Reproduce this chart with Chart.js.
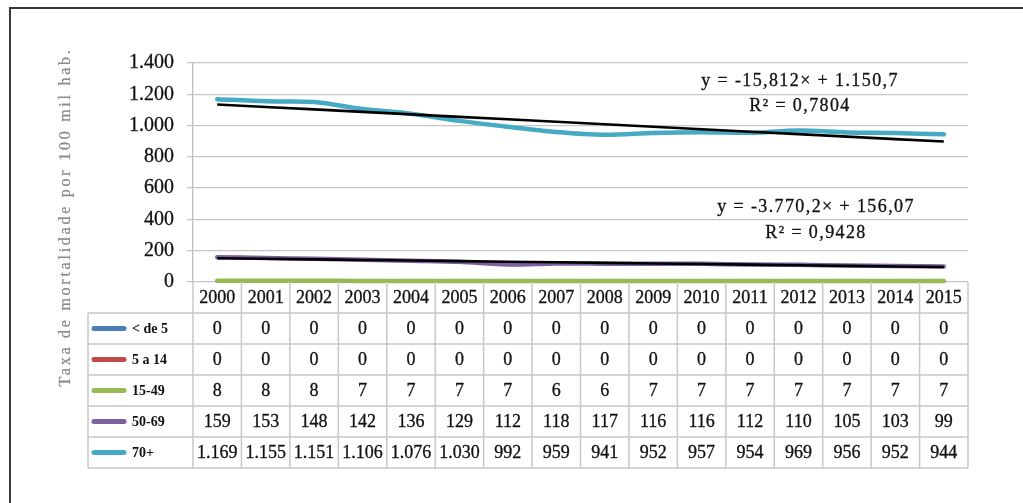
<!DOCTYPE html>
<html>
<head>
<meta charset="utf-8">
<script src="https://cdn.jsdelivr.net/npm/chart.js@4"></script>
<style>
  html, body { margin: 0; padding: 0; background: #fff; }
  canvas { display: block; }
</style>
</head>
<body>
<canvas id="mortalidade" width="1023" height="503"></canvas>
<script>
// Taxa de mortalidade por faixa etária, 2000-2015
var anos = ['2000', '2001', '2002', '2003', '2004', '2005', '2006', '2007',
            '2008', '2009', '2010', '2011', '2012', '2013', '2014', '2015'];
var faixas = ['< de 5', '5 a 14', '15-49', '50-69', '70+'];

var menorDe5   = [0, 0, 0, 0, 0, 0, 0, 0, 0, 0, 0, 0, 0, 0, 0, 0];
var de5a14     = [0, 0, 0, 0, 0, 0, 0, 0, 0, 0, 0, 0, 0, 0, 0, 0];
var de15a49    = [8, 8, 8, 7, 7, 7, 7, 6, 6, 7, 7, 7, 7, 7, 7, 7];
var de50a69    = [159, 153, 148, 142, 136, 129, 112, 118, 117, 116, 116, 112, 110, 105, 103, 99];
var de70mais   = [1169, 1155, 1151, 1106, 1076, 1030, 992, 959, 941, 952, 957, 954, 969, 956, 952, 944];

var yTicks = [0, 200, 400, 600, 800, 1000, 1200, 1400];

// linhas de tendência (x = 1..16): 70+ e 50-69
var tendInclinacao = [-15.812, -3.7702];
var tendIntercepto = [1150.7, 156.07];
var tendTextos = [
  ['y = -15,812× + 1.150,7', 'R² = 0,7804'],
  ['y = -3.770,2× + 156,07', 'R² = 0,9428']
];

var cores = ['#4a7ebb', '#be4b48', '#98b954', '#7d60a0', '#46aac5'];
var series = [menorDe5, de5a14, de15a49, de50a69, de70mais];

function milhar(v) {
  return String(v).replace(/\B(?=(\d{3})+(?!\d))/g, '.');
}

function tendencia(k) {
  return anos.map(function(a, i) {
    return tendInclinacao[k] * (i + 1) + tendIntercepto[k];
  });
}

var serif = '"Liberation Serif", "Times New Roman", serif';

var datasets = series.map(function(dados, i) {
  return {
    label: faixas[i],
    data: dados,
    borderColor: cores[i],
    backgroundColor: cores[i],
    borderWidth: 4.5,
    borderCapStyle: 'round',
    borderJoinStyle: 'round',
    pointRadius: 0,
    tension: 0.3,
    // as séries em zero ficam cortadas na base; as outras podem passar dela
    clip: i < 2 ? undefined : false,
    order: 5 - i
  };
});
datasets.push({
  label: 'Tendência 70+',
  data: tendencia(0),
  borderColor: '#000',
  borderWidth: 2.6,
  pointRadius: 0,
  clip: false,
  order: 0
});
datasets.push({
  label: 'Tendência 50-69',
  data: tendencia(1),
  borderColor: '#000',
  borderWidth: 2.6,
  pointRadius: 0,
  clip: false,
  order: 0
});

// texto com traço fino para ficar um pouco mais encorpado
function texto(ctx, s, x, y, traco) {
  ctx.fillText(s, x, y);
  if (traco) {
    ctx.lineWidth = traco;
    ctx.strokeStyle = ctx.fillStyle;
    ctx.strokeText(s, x, y);
  }
}

// moldura, título do eixo, equações e tabela de dados
var extras = {
  id: 'extras',
  afterDraw: function(chart) {
    var ctx = chart.ctx;
    var area = chart.chartArea;
    var x = chart.scales.x;
    var step = x.getPixelForValue(1) - x.getPixelForValue(0);

    ctx.save();
    // moldura
    ctx.strokeStyle = '#3a3a3a';
    ctx.lineWidth = 2;
    ctx.strokeRect(10, 8, 1040, 530);

    // título do eixo y
    ctx.save();
    ctx.translate(66, 217);
    ctx.rotate(-Math.PI / 2);
    ctx.font = '16px ' + serif;
    ctx.letterSpacing = '2.75px';
    ctx.fillStyle = '#8a8a8a';
    ctx.textAlign = 'center';
    ctx.textBaseline = 'middle';
    texto(ctx, 'Taxa de mortalidade por 100 mil hab.', 0, 0, 0.25);
    ctx.restore();

    // equações das tendências
    ctx.fillStyle = '#111';
    ctx.textAlign = 'center';
    ctx.textBaseline = 'middle';
    ctx.font = '18px ' + serif;
    ctx.letterSpacing = '1.4px';
    var pos = [[800, 81, 106], [816, 207, 233]];
    tendTextos.forEach(function(t, k) {
      texto(ctx, t[0], pos[k][0], pos[k][1], 0.3);
      texto(ctx, t[1], pos[k][0], pos[k][2], 0.3);
    });
    ctx.letterSpacing = '0px';

    // tabela
    var top = area.bottom;
    var headH = 31, rowH = 31;
    var legLeft = 88;
    var bottom = top + headH + faixas.length * rowH;
    var left = area.left, right = area.right;

    ctx.strokeStyle = '#c8c8c8';
    ctx.lineWidth = 1.5;
    ctx.beginPath();
    for (var c = 0; c <= anos.length; c++) {
      var cx = left + c * step;
      ctx.moveTo(cx, top);
      ctx.lineTo(cx, bottom);
    }
    ctx.moveTo(legLeft, top + headH);
    ctx.lineTo(legLeft, bottom);
    for (var r = 0; r <= faixas.length; r++) {
      var ry = top + headH + r * rowH;
      ctx.moveTo(legLeft, ry);
      ctx.lineTo(right, ry);
    }
    ctx.stroke();

    ctx.fillStyle = '#111';
    ctx.font = '18px ' + serif;
    anos.forEach(function(a, i) {
      texto(ctx, a, x.getPixelForValue(i), top + headH / 2 + 1, 0.3);
    });

    faixas.forEach(function(f, r) {
      var cy = top + headH + r * rowH + rowH / 2;
      ctx.strokeStyle = cores[r];
      ctx.lineWidth = 5;
      ctx.lineCap = 'round';
      ctx.beginPath();
      ctx.moveTo(94, cy);
      ctx.lineTo(124, cy);
      ctx.stroke();

      ctx.fillStyle = '#111';
      ctx.textAlign = 'left';
      ctx.font = 'bold 14px ' + serif;
      texto(ctx, f, 132, cy + 1, 0);

      ctx.textAlign = 'center';
      ctx.font = '18px ' + serif;
      series[r].forEach(function(v, i) {
        texto(ctx, milhar(v), x.getPixelForValue(i), cy + 1, 0.3);
      });
    });
    ctx.restore();
  }
};

new Chart(document.getElementById('mortalidade').getContext('2d'), {
  type: 'line',
  data: { labels: anos, datasets: datasets },
  options: {
    responsive: false,
    animation: false,
    devicePixelRatio: 1,
    layout: { padding: { left: 0, top: 63, right: 55, bottom: 0 } },
    plugins: {
      legend: { display: false },
      tooltip: { enabled: false }
    },
    scales: {
      x: {
        offset: true,
        grid: { display: false },
        border: { display: false },
        ticks: { display: false },
        afterFit: function(scale) { scale.height = 221; }
      },
      y: {
        min: 0,
        max: 1400,
        afterBuildTicks: function(scale) {
          scale.ticks = yTicks.map(function(v) { return { value: v }; });
        },
        ticks: {
          padding: 13,
          color: '#111',
          textStrokeColor: '#111',
          textStrokeWidth: 0.3,
          font: { family: serif, size: 20 },
          callback: function(v) { return milhar(v); }
        },
        grid: { color: '#c6c6c6', lineWidth: 1.3, tickLength: 6 },
        border: { color: '#bdbdbd', width: 1.3 },
        afterFit: function(scale) { scale.width = 193; }
      }
    }
  },
  plugins: [extras]
});
</script>
</body>
</html>
